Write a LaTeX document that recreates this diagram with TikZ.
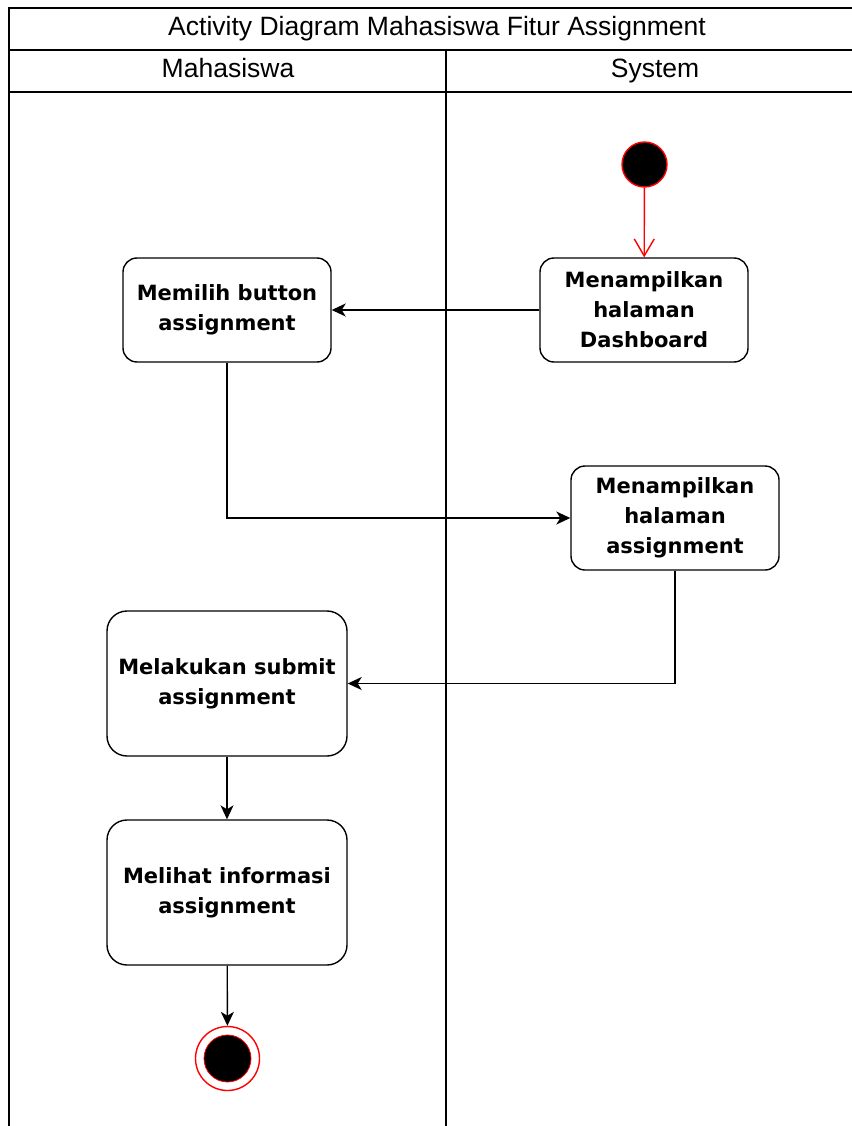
\documentclass[tikz,border=0pt]{standalone}
\usepackage{fontspec}
\setmainfont{Liberation Sans}
\newfontfamily\actfamily{DejaVu Sans}
\usetikzlibrary{arrows.meta}
\begin{document}
\begin{tikzpicture}[x=1pt,y=-1pt,
  lane/.style={line width=1.9pt, black},
  act/.style={draw, line width=1.4pt, rounded corners=14pt, align=center,
    inner sep=0pt, font=\actfamily\bfseries\fontsize{21}{30}\selectfont},
  smallact/.style={act, minimum width=208pt, minimum height=104pt},
  bigact/.style={act, minimum width=240pt, minimum height=145pt, rounded corners=20pt},
  flow/.style={line width=1.4pt, -{Stealth[length=14pt,width=13pt,inset=4pt]}},
  startflow/.style={line width=1.4pt, red, -{Straight Barb[length=17pt,width=20pt]}},
  headtext/.style={font=\fontsize{26.5}{30}\selectfont, text height=19pt, text depth=5pt, inner sep=0pt}
]
\useasboundingbox (0,0) rectangle (851,1126);
\fill[white] (0,0) rectangle (851,1126);

% swimlane frame
\draw[lane] (870,8) -- (9,8) -- (9,1130);
\draw[lane] (9,50) -- (870,50);
\draw[lane] (9,92) -- (870,92);
\draw[lane] (446,50) -- (446,1130);
\node[headtext] (title) at (437,29) {Activity Diagram Mahasiswa Fitur Assignment};
\node[headtext] (laneA) at (228,71) {Mahasiswa};
\node[headtext] (laneB) at (655,71) {System};

% start and end
\node[circle, fill=black, draw=red, line width=1.4pt, minimum size=45pt, inner sep=0pt] (start) at (644.5,164.5) {};
\node[circle, draw=red, line width=1.4pt, minimum size=64pt, inner sep=0pt] (end) at (227.5,1058.5) {};
\node[circle, fill=black, draw=red, line width=0.8pt, minimum size=47pt, inner sep=0pt] (endcore) at (227.5,1058.5) {};

% activities
\node[smallact] (dash) at (644,310) {Menampilkan\\halaman\\Dashboard};
\node[smallact] (pilih) at (227,310) {Memilih button\\assignment};
\node[smallact] (tampil) at (675,518) {Menampilkan\\halaman\\assignment};
\node[bigact] (submit) at (227,683.5) {Melakukan submit\\assignment};
\node[bigact] (lihat) at (227,892.5) {Melihat informasi\\assignment};

% flows
\draw[startflow] (start) -- (dash);
\draw[flow] (dash) -- (pilih);
\draw[flow] (pilih.south) |- (tampil.west);
\draw[flow] (tampil.south) |- (submit.east);
\draw[flow] (submit) -- (lihat);
\draw[flow] (lihat) -- (end);
\end{tikzpicture}
\end{document}
